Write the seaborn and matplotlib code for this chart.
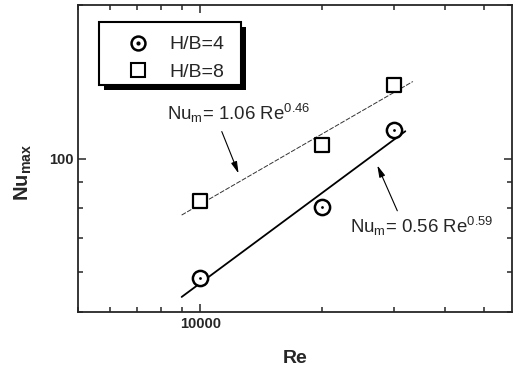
import numpy as np
import pandas as pd
import seaborn as sns
import matplotlib
matplotlib.use("Agg")
import matplotlib.pyplot as plt
import matplotlib.ticker as mticker
from matplotlib.lines import Line2D
from matplotlib.patches import Rectangle

# Measured maximum Nusselt number vs Reynolds number
re_values = [10000, 20000, 30000]
nu_hb4 = [58.3, 80.2, 113.8]
nu_hb8 = [82.7, 106.2, 139.7]
series_labels = ["H/B=4", "H/B=8"]

# Power-law correlations (exponents) and the Re span of each fitted line
exp_hb4 = 0.59
exp_hb8 = 0.46
fit_span_hb4 = [9000, 32000]
fit_span_hb8 = [9000, 33400]
label_hb4 = r"Nu$_{\mathregular{m}}$= 0.56 Re$^{\mathregular{0.59}}$"
label_hb8 = r"Nu$_{\mathregular{m}}$= 1.06 Re$^{\mathregular{0.46}}$"

sns.set_style("ticks")
plt.rcParams["font.family"] = ["Liberation Sans", "DejaVu Sans"]
plt.rcParams["mathtext.fontset"] = "custom"
plt.rcParams["mathtext.rm"] = "Liberation Sans"
plt.rcParams["mathtext.default"] = "regular"

fig = plt.figure(figsize=(5.25, 3.68), dpi=100)
ax = fig.add_axes([0.1486, 0.152, 0.8266, 0.834])
ax.set_xscale("log")
ax.set_yscale("log")
AX_W, AX_H = 434.0, 307.0  # axes size in pixels


def power_fit(x, y, p):
    # coefficient of y = C x^p with the exponent held fixed
    lx, ly = np.log10(x), np.log10(y)
    return 10 ** np.mean(ly - p * lx)


c4 = power_fit(re_values, nu_hb4, exp_hb4)
c8 = power_fit(re_values, nu_hb8, exp_hb8)
fit4 = pd.DataFrame({"Re": fit_span_hb4, "Nu": c4 * np.array(fit_span_hb4, float) ** exp_hb4})
fit8 = pd.DataFrame({"Re": fit_span_hb8, "Nu": c8 * np.array(fit_span_hb8, float) ** exp_hb8})

sns.lineplot(data=fit4, x="Re", y="Nu", ax=ax, color="black", lw=1.3)
sns.lineplot(data=fit8, x="Re", y="Nu", ax=ax, color="#333333", lw=0.7,
             linestyle=(0, (5, 1.5)))

pts = pd.DataFrame({"Re": re_values * 2,
                    "Nu": nu_hb4 + nu_hb8,
                    "set": [series_labels[0]] * 3 + [series_labels[1]] * 3})
d4 = pts[pts["set"] == series_labels[0]]
d8 = pts[pts["set"] == series_labels[1]]
sns.scatterplot(data=d4, x="Re", y="Nu", ax=ax, marker="o", s=120,
                facecolor="white", edgecolor="black", linewidth=1.8, zorder=3)
sns.scatterplot(data=d4, x="Re", y="Nu", ax=ax, marker="o", s=4,
                color="black", linewidth=0, zorder=4)
sns.scatterplot(data=d8, x="Re", y="Nu", ax=ax, marker="s", s=110,
                facecolor="white", edgecolor="black", linewidth=1.6, zorder=3)

ax.set_xlim(5000, 58600)
ax.set_ylim(50, 200)

ax.xaxis.set_major_locator(mticker.LogLocator(base=10))
ax.xaxis.set_minor_locator(mticker.LogLocator(base=10, subs=np.arange(2, 10)))
ax.yaxis.set_major_locator(mticker.LogLocator(base=10))
ax.yaxis.set_minor_locator(mticker.LogLocator(base=10, subs=np.arange(2, 10)))
fmt = mticker.FuncFormatter(lambda v, p: f"{v:.0f}")
ax.xaxis.set_major_formatter(fmt)
ax.yaxis.set_major_formatter(fmt)
ax.xaxis.set_minor_formatter(mticker.NullFormatter())
ax.yaxis.set_minor_formatter(mticker.NullFormatter())

ax.tick_params(which="both", direction="in", top=True, right=True, width=1.1,
               labelsize=10.5)
ax.tick_params(which="major", length=6)
ax.tick_params(which="minor", length=3.5)
for lab in ax.get_xticklabels() + ax.get_yticklabels():
    lab.set_fontweight("bold")
for sp in ax.spines.values():
    sp.set_linewidth(1.3)
    sp.set_visible(True)

ax.set_xlabel("Re", fontsize=14, fontweight="bold", labelpad=14)
ax.set_ylabel(r"Nu$_{\mathregular{max}}$", fontsize=14.5, fontweight="bold")
ax.yaxis.set_label_coords(-0.101, 0.456)

# correlation labels with pointer arrows
ax.text(0.205, 0.6254, label_hb8, transform=ax.transAxes, fontsize=13.4, va="baseline")
ax.text(0.627, 0.257, label_hb4, transform=ax.transAxes, fontsize=13.4, va="baseline")
arrow = dict(arrowstyle="-|>,head_length=0.7,head_width=0.18", lw=0.8, color="black",
             shrinkA=0, shrinkB=0)
ax.annotate("", xy=(12430, 93.5), xytext=(11300, 113.0), arrowprops=arrow)
ax.annotate("", xy=(27300, 97.0), xytext=(30580, 79.0), arrowprops=arrow)

h_circle = Line2D([], [], marker="o", ls="none", markersize=10, markerfacecolor="white",
                  markeredgecolor="black", markeredgewidth=1.8)
h_dot = Line2D([], [], marker="o", ls="none", markersize=2, color="black")
h_square = Line2D([], [], marker="s", ls="none", markersize=9.5, markerfacecolor="white",
                  markeredgecolor="black", markeredgewidth=1.5)
leg = ax.legend([(h_circle, h_dot), h_square], series_labels, loc="upper left",
                bbox_to_anchor=(21 / AX_W, 1 - 21 / AX_H), borderaxespad=0,
                fontsize=14, frameon=False, handletextpad=0.05, borderpad=0.5,
                labelspacing=0.52, handlelength=3.05)
leg.set_zorder(6)

# boxed frame with a solid drop shadow behind the legend entries
fig.canvas.draw()
bb = leg.get_window_extent().transformed(ax.transAxes.inverted())
fx0 = bb.x0
fy0 = bb.y0 + 6 / AX_H
fy1 = bb.y1 + 4 / AX_H
fw, fh = bb.width + 7 / AX_W, fy1 - fy0
ax.add_patch(Rectangle((fx0 + 5 / AX_W, fy0 - 5 / AX_H), fw, fh, transform=ax.transAxes,
                       facecolor="black", edgecolor="none", zorder=5.5))
ax.add_patch(Rectangle((fx0, fy0), fw, fh, transform=ax.transAxes, facecolor="white",
                       edgecolor="black", linewidth=1.5, zorder=5.6))

fig.savefig("out.png", dpi=100)
